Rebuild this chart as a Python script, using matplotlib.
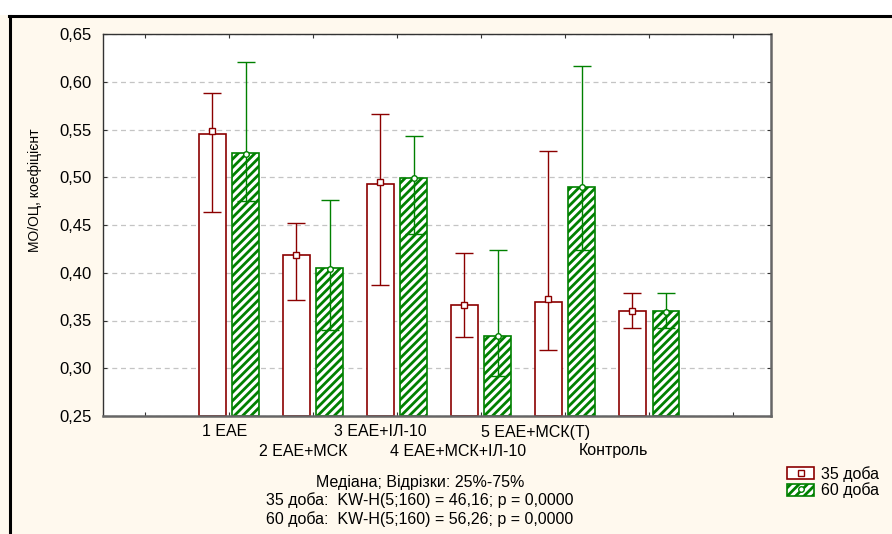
import matplotlib
matplotlib.use("Agg")
import matplotlib.pyplot as plt
from matplotlib.patches import Patch, Rectangle
from matplotlib.lines import Line2D
import numpy as np

plt.rcParams['font.family'] = ['Liberation Sans', 'DejaVu Sans']
plt.rcParams['hatch.linewidth'] = 2.0

groups = ["1 ЕАЕ", "2 ЕАЕ+МСК", "3 ЕАЕ+ІЛ-10", "4 ЕАЕ+МСК+ІЛ-10", "5 ЕАЕ+МСК(Т)", "Контроль"]
series = ["35 доба", "60 доба"]

bar35 = [0.545, 0.419, 0.493, 0.366, 0.369, 0.360]
med35 = [0.548, 0.419, 0.495, 0.366, 0.372, 0.360]
q25_35 = [0.464, 0.371, 0.387, 0.333, 0.319, 0.342]
q75_35 = [0.588, 0.452, 0.566, 0.421, 0.527, 0.379]

bar60 = [0.525, 0.405, 0.499, 0.334, 0.490, 0.360]
med60 = [0.524, 0.404, 0.499, 0.334, 0.490, 0.359]
q25_60 = [0.475, 0.340, 0.441, 0.292, 0.424, 0.342]
q75_60 = [0.621, 0.476, 0.543, 0.424, 0.617, 0.379]

yticks = [0.25, 0.30, 0.35, 0.40, 0.45, 0.50, 0.55, 0.60, 0.65]

red = "#8B0000"
green = "#008000"
cream = "#FFF9EE"
FS = 11.5

W, H = 892, 534
fig = plt.figure(figsize=(W / 100, H / 100), dpi=100, facecolor=cream)
# white strip on top and black border
fig.add_artist(Rectangle((0, 1 - 15 / H), 1, 15 / H, transform=fig.transFigure,
                         facecolor="white", edgecolor="none", zorder=0))
fig.add_artist(Line2D([9 / W, 1], [1 - 16 / H, 1 - 16 / H], transform=fig.transFigure,
                      color="black", lw=2.2))
fig.add_artist(Line2D([10 / W, 10 / W], [0, 1 - 16 / H], transform=fig.transFigure,
                      color="black", lw=2.2))

L, R, T, B = 103, 771, 34, 416
ax = fig.add_axes([L / W, 1 - B / H, (R - L) / W, (B - T) / H])
ax.set_facecolor("white")

x = np.arange(2, 2 + len(groups))
off = 0.2
bw = 0.32

ax.bar(x - off, [b - 0.25 for b in bar35], bottom=0.25, width=bw, facecolor="white",
       edgecolor=red, linewidth=1.2, zorder=2)
ax.bar(x + off, [b - 0.25 for b in bar60], bottom=0.25, width=bw, facecolor="white",
       edgecolor=green, hatch="////", linewidth=1.2, zorder=2)

m35 = np.array(med35)
m60 = np.array(med60)
ax.errorbar(x - off, m35, yerr=[m35 - np.array(q25_35), np.array(q75_35) - m35],
            fmt="s", color=red, ms=5, mfc="white", mec=red, mew=1.0,
            ecolor=red, elinewidth=1.0, capsize=6.5, capthick=1.0, zorder=3)
ax.errorbar(x + off, m60, yerr=[m60 - np.array(q25_60), np.array(q75_60) - m60],
            fmt="o", color=green, ms=4, mfc="white", mec=green, mew=1.0,
            ecolor=green, elinewidth=1.0, capsize=6.5, capthick=1.0, zorder=3)

ax.set_xlim(0.5, 8.45)
ax.set_ylim(0.25, 0.65)
ax.set_yticks(yticks)
ax.set_yticklabels([f"{v:.2f}".replace(".", ",") for v in yticks], fontsize=12)
ax.set_xticks(np.arange(1, 9))
ax.set_xticklabels([])
ax.tick_params(axis="x", direction="in", length=3, top=True, color="#333333")
ax.tick_params(axis="y", direction="in", length=3, right=True, color="#333333", pad=8)
ax.grid(axis="y", linestyle=(0, (4, 3)), color="#C4C4C4", linewidth=0.9, zorder=0)
ax.set_axisbelow(True)
for s in ["left", "top"]:
    ax.spines[s].set_color("#333333")
    ax.spines[s].set_linewidth(1.0)
for s in ["right", "bottom"]:
    ax.spines[s].set_color("#666666")
    ax.spines[s].set_linewidth(1.8)

ax.set_ylabel("МО/ОЦ, коефіцієнт", fontsize=10)
ax.yaxis.set_label_coords((42 - L) / (R - L), (B - 190) / (B - T))

# staggered category labels (pixel offsets converted to points)
px = 0.72
for i, (xi, g) in enumerate(zip(x, groups)):
    yoff = -16 if i % 2 == 0 else -35
    xoff = -4 - 6.3 * i
    ax.annotate(g, xy=(xi, 0.25), xycoords="data", xytext=(xoff * px, yoff * px),
                textcoords="offset points", ha="center", va="center", fontsize=FS)

cx = 420 / W
fig.text(cx, 1 - 482 / H, "Медіана; Відрізки: 25%-75%", ha="center", va="center", fontsize=FS)
fig.text(cx, 1 - 500 / H, "35 доба:  KW-H(5;160) = 46,16; p = 0,0000", ha="center", va="center", fontsize=FS)
fig.text(cx, 1 - 519 / H, "60 доба:  KW-H(5;160) = 56,26; p = 0,0000", ha="center", va="center", fontsize=FS)

h35 = (Patch(facecolor="white", edgecolor=red, linewidth=1.2),
       Line2D([], [], marker="s", ls="none", ms=5, mfc="white", mec=red))
h60 = (Patch(facecolor="white", edgecolor=green, hatch="////", linewidth=1.2),
       Line2D([], [], marker="o", ls="none", ms=4, mfc="white", mec=green))
fig.legend([h35, h60], series, loc="center left", bbox_to_anchor=(779 / W, 1 - 482 / H),
           frameon=False, fontsize=FS, handlelength=1.7, handleheight=0.8,
           handletextpad=0.4, labelspacing=0.05, borderpad=0)

fig.savefig("out.png", dpi=100, facecolor=cream)
